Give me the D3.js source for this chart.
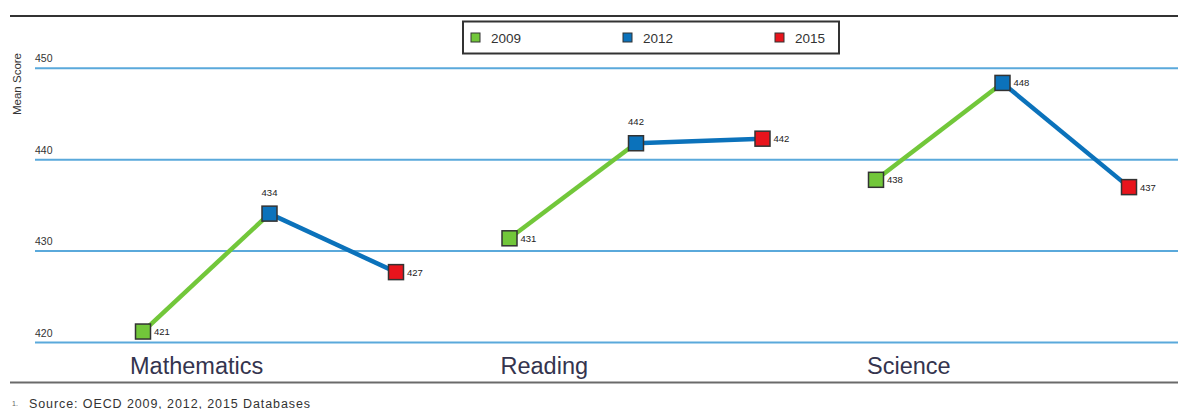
<!DOCTYPE html>
<html>
<head>
<meta charset="utf-8">
<script src="https://cdn.jsdelivr.net/npm/d3@7"></script>
<style>
  body { margin: 0; background: #fff; }
  svg text { font-family: "Liberation Sans", Arial, sans-serif; }
</style>
</head>
<body>
<div id="chart"></div>
<script>
const categories = ["Mathematics", "Reading", "Science"];
const years = ["2009", "2012", "2015"];
const scores2009 = [421.2, 431.4, 437.8];
const scores2012 = [434.1, 441.8, 448.4];
const scores2015 = [427.7, 442.3, 437.0];
const labels2009 = ["421", "431", "438"];
const labels2012 = ["434", "442", "448"];
const labels2015 = ["427", "442", "437"];
const yTicks = [420, 430, 440, 450];

const width = 1178;
const height = 409;
const colors = { "2009": "#72c73a", "2012": "#0b72bb", "2015": "#e8141c" };
const gridColor = "#5aa9db";

const seriesScores = { "2009": scores2009, "2012": scores2012, "2015": scores2015 };
const seriesLabels = { "2009": labels2009, "2012": labels2012, "2015": labels2015 };

const svg = d3.select("#chart").append("svg")
    .attr("width", width)
    .attr("height", height);

const x0 = d3.scaleBand()
    .domain(categories)
    .range([80, 80 + 3 * 366.5]);

const x1 = d3.scalePoint()
    .domain(years)
    .range([63, 316]);

const y = d3.scaleLinear()
    .domain([420, 450])
    .range([342.5, 68.3]);

// frame rules
svg.append("line")
    .attr("x1", 10).attr("x2", width)
    .attr("y1", 16).attr("y2", 16)
    .attr("stroke", "#333").attr("stroke-width", 2);
svg.append("line")
    .attr("x1", 10).attr("x2", width)
    .attr("y1", 382.5).attr("y2", 382.5)
    .attr("stroke", "#6a6a6a").attr("stroke-width", 2);

// gridlines + tick labels
const grid = svg.append("g");
grid.selectAll("line")
    .data(yTicks)
    .join("line")
    .attr("x1", 35).attr("x2", width)
    .attr("y1", d => y(d)).attr("y2", d => y(d))
    .attr("stroke", gridColor)
    .attr("stroke-width", 2);
grid.selectAll("text")
    .data(yTicks)
    .join("text")
    .attr("x", 35)
    .attr("y", d => y(d) - 6)
    .attr("font-size", 10.5)
    .attr("fill", "#333")
    .text(d => d);

svg.append("text")
    .attr("transform", "translate(21,84) rotate(-90)")
    .attr("text-anchor", "middle")
    .attr("font-size", 11.5)
    .attr("fill", "#333")
    .text("Mean Score");

// legend
const legend = svg.append("g");
legend.append("rect")
    .attr("x", 463).attr("y", 21.5)
    .attr("width", 376).attr("height", 32)
    .attr("fill", "#fff")
    .attr("stroke", "#333").attr("stroke-width", 2);
const legendX = d3.scalePoint().domain(years).range([471, 775]);
const li = legend.selectAll("g.item")
    .data(years)
    .join("g")
    .attr("class", "item")
    .attr("transform", d => `translate(${legendX(d)},33)`);
li.append("rect")
    .attr("width", 9).attr("height", 9)
    .attr("fill", d => colors[d])
    .attr("stroke", "#333").attr("stroke-width", 1);
li.append("text")
    .attr("x", 20).attr("y", 9.5)
    .attr("font-size", 13.5)
    .attr("fill", "#333")
    .text(d => d);

// lines and markers per subject
const groups = svg.append("g").selectAll("g")
    .data(categories)
    .join("g")
    .attr("transform", d => `translate(${x0(d)},0)`);

const pts = (i) => years.map(yr => ({ year: yr, v: seriesScores[yr][i], label: seriesLabels[yr][i] }));

groups.each(function (cat, i) {
    const g = d3.select(this);
    const p = pts(i);
    const segs = [[p[0], p[1]], [p[1], p[2]]];
    g.selectAll("line.seg")
        .data(segs)
        .join("line")
        .attr("class", "seg")
        .attr("x1", d => x1(d[0].year)).attr("y1", d => y(d[0].v))
        .attr("x2", d => x1(d[1].year)).attr("y2", d => y(d[1].v))
        .attr("stroke", d => d[1].year === "2012" ? colors["2009"] : colors["2012"])
        .attr("stroke-width", 4.5);

    g.selectAll("rect.mk")
        .data(p)
        .join("rect")
        .attr("class", "mk")
        .attr("x", d => x1(d.year) - 7.5)
        .attr("y", d => y(d.v) - 7.5)
        .attr("width", 15).attr("height", 15)
        .attr("fill", d => colors[d.year])
        .attr("stroke", "#333").attr("stroke-width", 1.5);

    const above = d => d.year === "2012" && cat !== "Science";
    g.selectAll("text.val")
        .data(p)
        .join("text")
        .attr("class", "val")
        .attr("font-size", 9.5)
        .attr("fill", "#222")
        .attr("text-anchor", d => above(d) ? "middle" : "start")
        .attr("x", d => above(d) ? x1(d.year) : x1(d.year) + 11)
        .attr("y", d => above(d) ? y(d.v) - 18 : y(d.v) + 3.5)
        .text(d => d.label);

    g.append("text")
        .attr("x", x1("2009") - (i === 0 ? 13 : 9))
        .attr("y", 374)
        .attr("font-size", 23.5)
        .attr("fill", "#34344e")
        .text(cat);
});

// source note
svg.append("text")
    .attr("x", 12).attr("y", 406)
    .attr("font-size", 7)
    .attr("fill", "#666")
    .text("1.");
svg.append("text")
    .attr("x", 29).attr("y", 407.5)
    .attr("font-size", 12.5)
    .attr("textLength", 281)
    .attr("fill", "#333")
    .text("Source: OECD 2009, 2012, 2015 Databases");
</script>
</body>
</html>
